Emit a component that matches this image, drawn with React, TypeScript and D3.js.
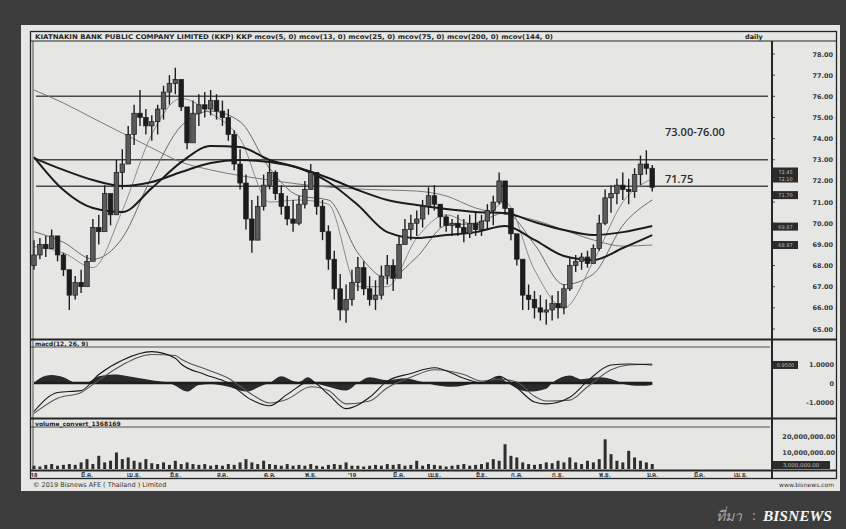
import React, { Component } from 'react';
import * as d3 from 'd3';

// weekly candles, index 0 = first bar on the left
const firstOpen = 68.0;
const highs = [
  69.2, 69.3, 69.4, 69.7, 69.3, 68.6, 67.8, 67.5, 67.8, 68.5,
  70.2, 70.4, 71.8, 71.3, 73.0, 73.5, 74.6, 75.6, 76.3, 75.4,
  75.1, 75.6, 76.5, 77.0, 77.35, 76.8, 75.4, 75.8, 76.1, 76.2,
  76.3, 76.1, 75.8, 75.4, 74.4, 73.5, 72.3, 71.1, 71.3, 72.3,
  73.0, 72.5, 71.8, 71.3, 71.1, 71.3, 72.0, 72.8, 72.4, 71.1,
  69.9, 68.7, 67.6, 67.1, 67.8, 68.4, 68.2, 67.5, 67.3, 68.0,
  68.5, 68.3, 69.4, 70.2, 70.4, 70.6, 71.1, 71.7, 71.8, 70.9,
  70.4, 70.2, 70.4, 70.2, 70.4, 70.5, 70.4, 70.9, 71.3, 72.4,
  72.0, 70.6, 69.4, 67.8, 67.1, 66.8, 66.6, 66.4, 66.6, 66.8,
  67.1, 68.4, 68.5, 68.6, 68.7, 69.0, 70.4, 71.6, 71.8, 72.1,
  72.4, 72.1, 72.6, 73.2, 73.45, 72.75
];
const lows = [
  67.8, 68.3, 68.4, 68.8, 68.2, 67.5, 65.9, 66.4, 66.7, 67.1,
  68.3, 69.0, 69.8, 69.9, 71.1, 71.6, 72.8, 73.7, 74.6, 74.2,
  73.9, 74.2, 74.9, 75.6, 76.1, 75.3, 73.5, 74.2, 74.6, 75.0,
  75.1, 74.9, 74.6, 73.9, 72.5, 71.6, 69.7, 68.6, 69.4, 70.6,
  71.6, 71.1, 70.4, 69.9, 69.6, 69.9, 70.7, 71.6, 70.4, 69.2,
  67.8, 66.4, 65.4, 65.3, 66.1, 66.8, 66.6, 66.1, 65.9, 66.4,
  67.1, 66.8, 67.8, 69.0, 69.2, 69.4, 69.8, 70.4, 70.6, 69.8,
  69.6, 69.4, 69.4, 69.1, 69.3, 69.4, 69.4, 69.7, 69.9, 70.9,
  70.4, 69.2, 68.0, 65.9, 65.9, 65.5, 65.4, 65.2, 65.4, 65.5,
  65.7, 66.8, 67.7, 67.8, 67.9, 68.2, 68.7, 69.9, 70.5, 70.9,
  71.1, 70.9, 71.2, 71.8, 72.3, 71.5
];
const closes = [
  68.5, 69.0, 68.8, 69.4, 68.5, 67.8, 66.6, 67.2, 67.0, 68.2,
  69.8, 69.6, 71.4, 70.4, 72.4, 72.8, 74.2, 75.2, 75.0, 74.6,
  74.8, 75.4, 76.2, 76.6, 76.8, 75.5, 73.8, 75.2, 75.6, 75.4,
  75.8, 75.3, 75.0, 74.2, 72.8, 71.9, 70.2, 69.2, 70.8, 71.8,
  72.4, 71.4, 70.8, 70.2, 70.0, 70.9, 71.6, 72.4, 70.8, 69.6,
  68.3, 66.9, 65.9, 66.4, 67.2, 67.9, 66.9, 66.4, 66.6, 67.5,
  68.0, 67.4, 69.0, 69.7, 70.0, 70.2, 70.8, 71.3, 70.9, 70.3,
  69.9, 70.0, 69.8, 69.5, 70.0, 69.7, 70.1, 70.6, 71.0, 72.0,
  70.7, 69.5, 68.3, 66.6, 66.4, 66.0, 65.8, 65.9, 66.2, 66.0,
  66.9, 68.0, 68.2, 68.4, 68.1, 68.8, 70.0, 71.2, 71.4, 71.8,
  71.6, 71.5, 72.3, 72.8, 72.6, 71.7
];

// moving averages read every 5 bars
const maIdx = [0, 5, 10, 15, 20, 25, 30, 35, 40, 45, 50, 55, 60, 65, 70, 75, 80, 85, 90, 95, 100, 105];
const maFast = [68.9, 68.6, 67.9, 70.6, 74.2, 75.9, 75.2, 74.0, 71.0, 71.1, 70.9, 67.0, 67.0, 69.3, 70.4, 69.9, 71.0, 67.8, 66.0, 68.2, 71.0, 72.1];
const maMed = [69.6, 69.1, 68.3, 69.3, 72.2, 74.6, 75.3, 74.8, 72.6, 71.3, 71.1, 68.6, 67.4, 68.4, 69.9, 70.0, 70.5, 69.0, 67.1, 67.6, 69.9, 71.1];
const maMid = [73.13, 71.57, 70.72, 70.53, 71.66, 72.89, 73.65, 73.6, 72.99, 72.61, 71.95, 70.86, 69.58, 69.3, 69.44, 69.58, 69.87, 69.21, 68.45, 68.26, 68.83, 69.44];
const maSlow = [73.08, 72.52, 72.04, 71.76, 71.95, 72.42, 72.85, 72.99, 72.89, 72.61, 72.14, 71.57, 71.1, 70.86, 70.67, 70.53, 70.48, 70.06, 69.68, 69.44, 69.58, 69.87];
const maLong = [76.3, 75.68, 74.97, 74.26, 73.56, 72.89, 72.52, 72.25, 72.04, 71.85, 71.71, 71.62, 71.57, 71.52, 71.29, 70.72, 70.43, 70.15, 69.68, 69.21, 68.92, 68.97];

const levels = [76.0, 73.0, 71.75];
const priceTicks = [78, 77, 76, 75, 74, 73, 72, 71, 70, 69, 68, 67, 66, 65];
const tagValues = [72.28, 71.33, 69.84, 68.97];
const tagTexts = [["72.45", "72.10"], ["71.70"], ["69.87"], ["68.97"]];

// MACD
const macdIdx = [0, 4, 8, 11, 15, 20, 24, 25, 29, 33, 37, 40, 43, 47, 50, 53, 57, 60, 64, 68, 73, 76, 79, 82, 85, 87, 91, 94, 98, 101, 105];
const macdVal = [-1.5, -0.5, -0.4, 0.45, 1.2, 1.65, 1.3, 1.0, 0.45, 0.0, -0.9, -1.2, -0.6, 0.1, -0.6, -1.35, -0.75, 0.1, 0.5, 0.8, 0.25, 0.0, 0.35, -0.25, -1.0, -1.1, -0.75, 0.1, 0.95, 1.0, 0.95];
const signalVal = [-1.6, -0.8, -0.5, 0.15, 0.95, 1.5, 1.45, 1.25, 0.75, 0.25, -0.6, -1.05, -0.85, -0.2, -0.4, -1.1, -0.95, -0.25, 0.3, 0.7, 0.45, 0.1, 0.2, 0.05, -0.7, -0.95, -0.9, -0.2, 0.7, 0.95, 1.0];
const histIdx = [0, 1, 3, 5, 7, 8, 9, 11, 14, 16, 20, 21, 23, 24, 26, 28, 30, 33, 36, 39, 40, 42, 44, 45, 46.5, 48, 50, 53, 55, 57, 60, 63, 66, 68, 71, 75, 78, 79, 80, 81, 84, 87, 88, 91, 93, 96, 99, 100, 103, 105];
const histVal = [0, 0.25, 0.42, 0.3, 0, -0.05, 0, 0.35, 0.45, 0.35, 0.15, 0.1, 0, -0.15, -0.45, -0.1, -0.05, -0.2, -0.45, -0.1, 0, 0.35, 0.1, 0.05, 0.3, 0, -0.2, -0.4, 0, 0.3, 0.15, 0.25, 0.05, -0.1, -0.2, 0, 0.2, 0.35, 0.1, -0.1, -0.45, -0.3, 0, 0.4, 0.2, 0.3, 0.1, -0.05, -0.15, -0.1];
const macdTicks = [1, 0, -1];
const macdTickText = ["1.0000", "0", "-1.0000"];

// volume, millions of shares
const volume = [
  2, 1.5, 2.5, 3, 2, 2.5, 3, 2.5, 4, 6, 3, 8, 4, 5, 10, 6, 7, 5, 4, 6, 3.5,
  3, 4, 2.5, 5, 3, 4, 3, 2.5, 3, 2, 2.5, 2, 3, 2.5, 4, 6, 4, 3, 5, 3,
  2.5, 2, 3, 2, 2.5, 2, 3, 2, 1.5, 2.5, 3, 2.5, 4, 2, 2, 1.5, 2, 2.5, 2, 3,
  2.5, 3, 2, 2.5, 5, 2, 3, 2.5, 2, 1.5, 2, 2.5, 3, 2, 2.5, 3, 4, 6, 5, 15,
  8, 7, 4, 3, 2.5, 3, 4, 3.5, 5, 4, 7, 4, 3, 5, 4, 6, 18, 9, 5, 4, 11, 7, 5, 4, 3
];
const volTicks = [20, 10];

const xTickIdx = [0, 9, 17, 24, 32, 40, 47, 54, 62, 68, 76, 82, 89, 97, 105, 113, 120];
const xTickText = ["18", "มี.ค.", "เม.ย.", "มิ.ย.", "ส.ค.", "ต.ค.", "พ.ย.", "'19", "มี.ค.", "เม.ย.", "มิ.ย.", "ก.ค.", "ก.ย.", "พ.ย.", "ม.ค.", "มี.ค.", "เม.ย."];

const titleText = "KIATNAKIN BANK PUBLIC COMPANY LIMITED (KKP) KKP mcov(5, 0) mcov(13, 0) mcov(25, 0) mcov(75, 0) mcov(200, 0) mcov(144, 0)";

class StockChart extends Component {
  constructor(props) {
    super(props);
    this.chartRef = React.createRef();
  }

  componentDidMount() {
    this.createChart();
  }

  componentDidUpdate() {
    this.createChart();
  }

  createChart() {
    const width = 846;
    const height = 529;
    const plotRight = 770;
    const axisRight = 836;
    const font = "DejaVu Sans, Verdana, sans-serif";
    const ink = "#262626";

    const svg = d3.select(this.chartRef.current)
      .attr("width", width)
      .attr("height", height);
    svg.selectAll("*").remove();

    // background + paper
    svg.append("rect").attr("width", width).attr("height", height).attr("fill", "#3d3d3d");
    svg.append("rect").attr("x", 21).attr("y", 25).attr("width", 819).attr("height", 466).attr("fill", "#e6e6e4");

    const x = d3.scaleLinear().domain([0, 125]).range([34, 770]);
    const y = d3.scaleLinear().domain([65, 78]).range([329, 54]);
    const yM = d3.scaleLinear().domain([-1, 1]).range([402, 364]);
    const yV = d3.scaleLinear().domain([0, 20]).range([469, 436]);

    // frame
    const frame = svg.append("g").attr("fill", "none").attr("stroke", ink);
    frame.append("rect").attr("x", 30.5).attr("y", 31.5).attr("width", axisRight - 30).attr("height", 447).attr("stroke-width", 1.3);
    frame.append("line").attr("x1", 30).attr("x2", axisRight).attr("y1", 41).attr("y2", 41).attr("stroke-width", 1);
    frame.append("line").attr("x1", 30).attr("x2", axisRight).attr("y1", 339.5).attr("y2", 339.5).attr("stroke-width", 2);
    frame.append("line").attr("x1", 30).attr("x2", plotRight).attr("y1", 347).attr("y2", 347).attr("stroke-width", 0.8);
    frame.append("line").attr("x1", 30).attr("x2", axisRight).attr("y1", 418.5).attr("y2", 418.5).attr("stroke-width", 2);
    frame.append("line").attr("x1", 30).attr("x2", plotRight).attr("y1", 427).attr("y2", 427).attr("stroke-width", 0.8);
    frame.append("line").attr("x1", 30).attr("x2", axisRight).attr("y1", 470.5).attr("y2", 470.5).attr("stroke-width", 2);
    frame.append("line").attr("x1", 772).attr("x2", 772).attr("y1", 41).attr("y2", 478).attr("stroke-width", 2);
    frame.append("line").attr("x1", 33).attr("x2", 33).attr("y1", 41).attr("y2", 470).attr("stroke-width", 0.8);

    // header texts
    svg.append("text").attr("x", 35).attr("y", 39).attr("font-family", font).attr("font-size", 6.5)
      .attr("font-weight", "bold").attr("fill", ink).attr("textLength", 518).attr("lengthAdjust", "spacingAndGlyphs")
      .text(titleText);
    svg.append("text").attr("x", 745).attr("y", 39).attr("font-family", font).attr("font-size", 6.5)
      .attr("font-weight", "bold").attr("fill", ink).text("daily");
    svg.append("text").attr("x", 35).attr("y", 346).attr("font-family", font).attr("font-size", 6)
      .attr("font-weight", "bold").attr("fill", ink).text("macd(12, 26, 9)");
    svg.append("text").attr("x", 35).attr("y", 426).attr("font-family", font).attr("font-size", 6)
      .attr("font-weight", "bold").attr("fill", ink).text("volume_convert_1368169");

    // support / resistance levels
    svg.append("g").selectAll("line").data(levels).join("line")
      .attr("x1", 36).attr("x2", plotRight - 2)
      .attr("y1", d => y(d)).attr("y2", d => y(d))
      .attr("stroke", "#4a4a4a").attr("stroke-width", 1.6);

    svg.append("text").attr("x", 665).attr("y", y(73) - 24).attr("font-family", "Open Sans, DejaVu Sans, sans-serif")
      .attr("font-size", 11).attr("font-weight", 600).attr("fill", "#2b2b2b").text("73.00-76.00");
    svg.append("text").attr("x", 665).attr("y", y(71.75) - 3).attr("font-family", "Open Sans, DejaVu Sans, sans-serif")
      .attr("font-size", 11).attr("font-weight", 600).attr("fill", "#2b2b2b").text("71.75");

    // moving averages
    const maLine = d3.line()
      .x(d => x(d[0]))
      .y(d => y(d[1]))
      .curve(d3.curveMonotoneX);
    const maSeries = [
      { vals: maLong, stroke: "#7a7a7a", w: 1 },
      { vals: maMed, stroke: "#6a6a6a", w: 1 },
      { vals: maFast, stroke: "#8c8c8c", w: 1 },
      { vals: maSlow, stroke: "#1c1c1c", w: 2 },
      { vals: maMid, stroke: "#1c1c1c", w: 2 },
    ];
    maSeries.forEach(s => {
      svg.append("path")
        .datum(maIdx.map((d, k) => [d, s.vals[k]]))
        .attr("fill", "none")
        .attr("stroke", s.stroke)
        .attr("stroke-width", s.w)
        .attr("d", maLine);
    });

    // candles
    const candles = closes.map((c, i) => ({
      i,
      open: i === 0 ? firstOpen : closes[i - 1],
      close: c,
      high: highs[i],
      low: lows[i],
    }));
    const cg = svg.append("g");
    cg.selectAll("line").data(candles).join("line")
      .attr("x1", d => x(d.i)).attr("x2", d => x(d.i))
      .attr("y1", d => y(d.high)).attr("y2", d => y(d.low))
      .attr("stroke", "#1e1e1e").attr("stroke-width", 1.4);
    cg.selectAll("rect").data(candles).join("rect")
      .attr("x", d => x(d.i) - 2.3)
      .attr("width", 4.6)
      .attr("y", d => y(Math.max(d.open, d.close)))
      .attr("height", d => Math.max(1.5, Math.abs(y(d.open) - y(d.close))))
      .attr("fill", d => d.close >= d.open ? "#5a5a5a" : "#1c1c1c")
      .attr("stroke", "#1c1c1c").attr("stroke-width", 0.7);

    // price axis
    svg.append("g").selectAll("text").data(priceTicks).join("text")
      .attr("x", 833).attr("y", d => y(d) + 2.5)
      .attr("text-anchor", "end").attr("font-family", font).attr("font-size", 6.5)
      .attr("font-weight", "bold").attr("fill", "#3a3a3a")
      .text(d => d3.format(".2f")(d));
    svg.append("g").selectAll("line").data(priceTicks).join("line")
      .attr("x1", 772).attr("x2", 775).attr("y1", d => y(d)).attr("y2", d => y(d))
      .attr("stroke", ink).attr("stroke-width", 0.8);

    tagValues.forEach((v, k) => {
      const lines = tagTexts[k];
      const h = lines.length * 7 + 1;
      const top = y(v) - h / 2;
      svg.append("rect").attr("x", 773).attr("y", top).attr("width", 25).attr("height", h).attr("fill", "#2b2b2b");
      lines.forEach((t, j) => {
        svg.append("text").attr("x", 785.5).attr("y", top + 6 + j * 7).attr("text-anchor", "middle")
          .attr("font-family", font).attr("font-size", 5).attr("fill", "#bdbdbd").text(t);
      });
    });

    // MACD panel
    svg.append("path")
      .datum(histIdx.map((d, k) => [d, histVal[k]]))
      .attr("fill", "#2a2a2a")
      .attr("d", d3.area().x(d => x(d[0])).y0(yM(0)).y1(d => yM(d[1])).curve(d3.curveMonotoneX));
    svg.append("line").attr("x1", x(0)).attr("x2", x(105)).attr("y1", yM(0)).attr("y2", yM(0))
      .attr("stroke", "#1e1e1e").attr("stroke-width", 2.5);
    const mLine = d3.line().x(d => x(d[0])).y(d => yM(d[1])).curve(d3.curveMonotoneX);
    svg.append("path").datum(macdIdx.map((d, k) => [d, signalVal[k]]))
      .attr("fill", "none").attr("stroke", "#555").attr("stroke-width", 1.1).attr("d", mLine);
    svg.append("path").datum(macdIdx.map((d, k) => [d, macdVal[k]]))
      .attr("fill", "none").attr("stroke", "#1a1a1a").attr("stroke-width", 1.1).attr("d", mLine);

    svg.append("g").selectAll("text").data(macdTicks).join("text")
      .attr("x", 834).attr("y", d => yM(d) + 2.5)
      .attr("text-anchor", "end").attr("font-family", font).attr("font-size", 6.5)
      .attr("font-weight", "bold").attr("fill", "#3a3a3a")
      .text((d, k) => macdTickText[k]);
    const lastMacd = macdVal[macdVal.length - 1];
    svg.append("rect").attr("x", 773).attr("y", yM(lastMacd) - 4).attr("width", 25).attr("height", 8).attr("fill", "#2b2b2b");
    svg.append("text").attr("x", 785.5).attr("y", yM(lastMacd) + 2).attr("text-anchor", "middle")
      .attr("font-family", font).attr("font-size", 5).attr("fill", "#bdbdbd").text(d3.format(".4f")(lastMacd));

    // volume panel
    svg.append("g").selectAll("rect").data(volume).join("rect")
      .attr("x", (d, i) => x(i) - 1.5)
      .attr("width", 3)
      .attr("y", d => yV(d))
      .attr("height", d => yV(0) - yV(d))
      .attr("fill", "#2e2e2e");
    svg.append("g").selectAll("text").data(volTicks).join("text")
      .attr("x", 835).attr("y", d => yV(d) + 2.5)
      .attr("text-anchor", "end").attr("font-family", font).attr("font-size", 6.5)
      .attr("font-weight", "bold").attr("fill", "#3a3a3a")
      .text(d => d3.format(",.2f")(d * 1e6));
    const lastVol = volume[volume.length - 1];
    svg.append("rect").attr("x", 773).attr("y", 461).attr("width", 57).attr("height", 8).attr("fill", "#2b2b2b");
    svg.append("text").attr("x", 801).attr("y", 467).attr("text-anchor", "middle")
      .attr("font-family", font).attr("font-size", 5.5).attr("fill", "#bdbdbd").text(d3.format(",.2f")(lastVol * 1e6));

    // time axis
    svg.append("g").selectAll("text").data(xTickIdx).join("text")
      .attr("x", d => x(d)).attr("y", 477)
      .attr("text-anchor", "middle").attr("font-family", "Noto Sans, DejaVu Sans, sans-serif").attr("font-size", 6)
      .attr("font-weight", "bold").attr("fill", "#333")
      .text((d, k) => xTickText[k]);

    // footer
    svg.append("text").attr("x", 33).attr("y", 487).attr("font-family", font).attr("font-size", 6.5)
      .attr("fill", "#333").text("© 2019 Bisnews AFE ( Thailand ) Limited");
    svg.append("text").attr("x", 834).attr("y", 487).attr("text-anchor", "end").attr("font-family", font)
      .attr("font-size", 6).attr("fill", "#333").text("www.bisnews.com");

    // source caption
    svg.append("text").attr("x", 716).attr("y", 521).attr("font-family", "Noto Sans, DejaVu Sans, sans-serif")
      .attr("font-size", 14).attr("font-style", "italic").attr("fill", "#a9a9a9").text("ที่มา");
    svg.append("text").attr("x", 752).attr("y", 520).attr("font-family", "Liberation Serif, serif")
      .attr("font-size", 14).attr("fill", "#a9a9a9").text(":");
    svg.append("text").attr("x", 763).attr("y", 521).attr("font-family", "Liberation Serif, serif")
      .attr("font-size", 15.5).attr("font-style", "italic").attr("font-weight", "bold").attr("fill", "#f4f4f4")
      .text("BISNEWS");

    this.svg = svg;
  }

  render() {
    return <svg ref={this.chartRef} style={{ position: "absolute", left: 0, top: 0, display: "block" }}></svg>;
  }
}

export default function App() {
  return <StockChart />;
}
